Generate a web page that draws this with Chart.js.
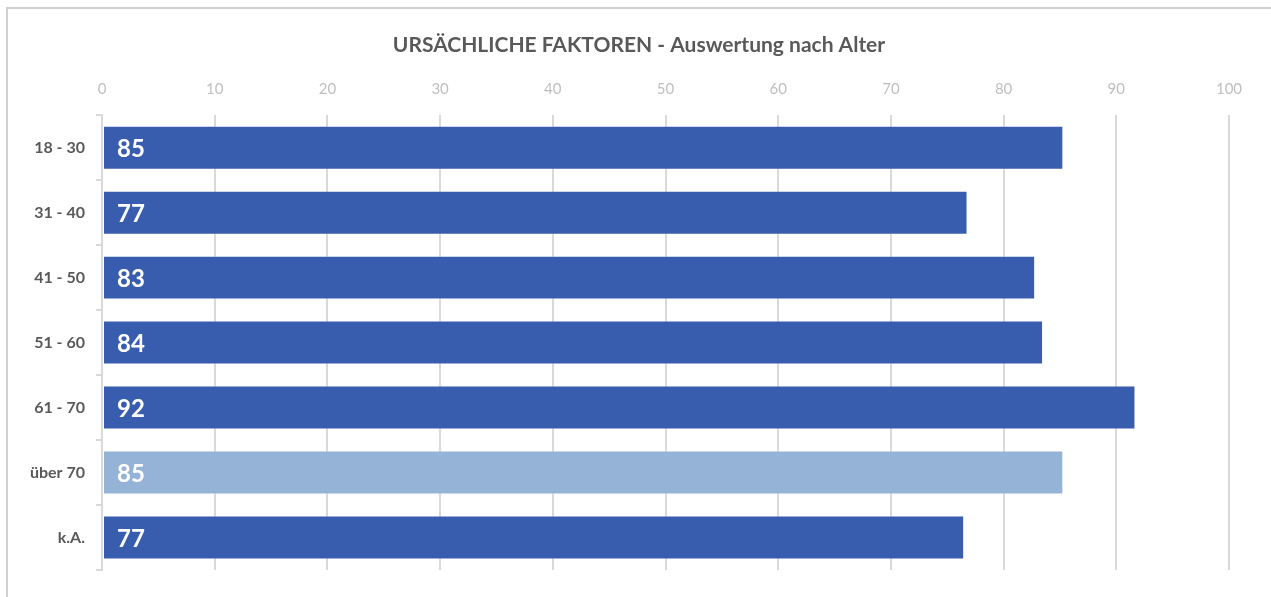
<!DOCTYPE html>
<html>
<head>
<meta charset="utf-8">
<script src="https://cdn.jsdelivr.net/npm/chart.js@4.4.1/dist/chart.umd.min.js"></script>
<style>
  body { margin: 0; background: #fff; overflow: hidden; }
  #rahmen { position: absolute; left: 6px; top: 7px; width: 1400px; height: 700px; border: 2px solid #d0d0d0; }
  #wrap { position: absolute; left: 0; top: 0; width: 1271px; height: 597px; }
</style>
</head>
<body>
<div id="rahmen"></div>
<div id="wrap"><canvas id="grafico"></canvas></div>
<script>
// dati
var titolo = "URSÄCHLICHE FAKTOREN - Auswertung nach Alter";
var fasce = ["18 - 30", "31 - 40", "41 - 50", "51 - 60", "61 - 70", "über 70", "k.A."];
var valori = [85.3, 76.8, 82.8, 83.5, 91.7, 85.3, 76.5];
var etichette = ["85", "77", "83", "84", "92", "85", "77"];
var colori = ["#385DAE", "#385DAE", "#385DAE", "#385DAE", "#385DAE", "#95B3D7", "#385DAE"];
var tickX = [0, 10, 20, 30, 40, 50, 60, 70, 80, 90, 100];

// scrive i valori dentro le barre, a sinistra
var etichetteBarre = {
    id: 'etichetteBarre',
    afterDatasetsDraw: function(chart) {
        var ctx = chart.ctx;
        var meta = chart.getDatasetMeta(0);
        ctx.save();
        ctx.fillStyle = '#ffffff';
        ctx.font = 'bold 24px Lato';
        ctx.textAlign = 'left';
        ctx.textBaseline = 'middle';
        meta.data.forEach(function(bar, i) {
            ctx.fillText(etichette[i], bar.base + 14, bar.y + 2);
        });
        ctx.restore();
    }
};

// titolo centrato un po' piu a destra, come nell'originale
var spostaTitolo = {
    id: 'spostaTitolo',
    afterLayout: function(chart) {
        if (chart.titleBlock) {
            chart.titleBlock.left = 49;
        }
    }
};

new Chart(document.getElementById("grafico"), {
    type: 'bar',
    data: {
        labels: fasce,
        datasets: [{
            data: valori,
            backgroundColor: colori,
            borderColor: 'rgba(255,255,255,0.25)',
            borderWidth: 1,
            borderSkipped: false,
            categoryPercentage: 1,
            barPercentage: 0.677
        }]
    },
    plugins: [etichetteBarre, spostaTitolo],
    options: {
        indexAxis: 'y',
        responsive: true,
        maintainAspectRatio: false,
        animation: false,
        layout: { padding: { left: 8, right: 42, top: 0, bottom: 27 } },
        plugins: {
            legend: { display: false },
            tooltip: { enabled: false },
            title: {
                display: true,
                text: titolo,
                color: '#595959',
                font: { family: 'Lato', size: 21, weight: 'bold' },
                padding: { top: 33, bottom: 8 }
            }
        },
        scales: {
            x: {
                position: 'top',
                min: 0,
                max: 100,
                afterBuildTicks: function(axis) {
                    axis.ticks = tickX.map(function(v) { return { value: v }; });
                },
                afterFit: function(axis) { axis.height = 49; },
                ticks: {
                    color: '#bfbfbf',
                    font: { family: 'Lato', size: 15 },
                    padding: 17
                },
                grid: { color: '#d9d9d9', lineWidth: 2, drawTicks: false },
                border: { display: false }
            },
            y: {
                afterFit: function(axis) { axis.width = 94; },
                ticks: {
                    color: '#595959',
                    font: { family: 'Lato', size: 16, weight: 'bold' },
                    padding: 11
                },
                grid: { display: true, drawOnChartArea: false, color: '#d9d9d9', lineWidth: 2, tickLength: 6 },
                border: { display: true, color: '#d9d9d9', width: 2 }
            }
        }
    }
});
</script>
</body>
</html>
